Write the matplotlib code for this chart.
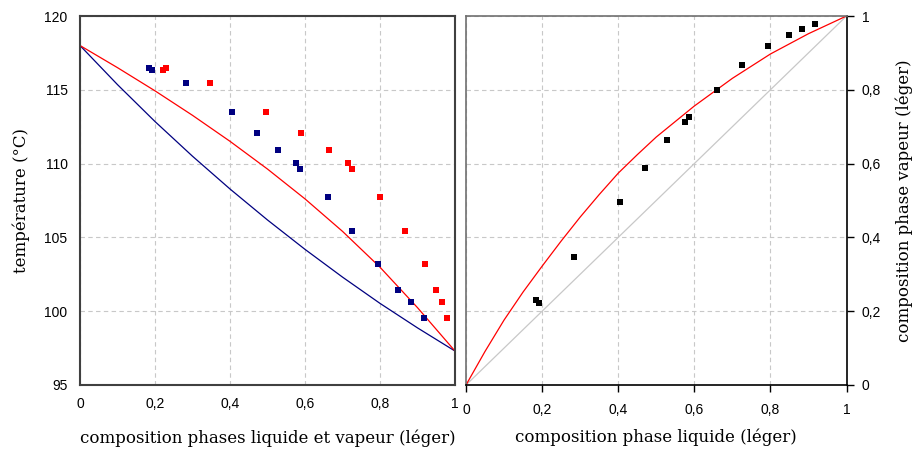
import numpy as np
import matplotlib
matplotlib.use('Agg')
import matplotlib.pyplot as plt

# mesures : composition liquide / vapeur (léger) et température
x_liq = [0.184, 0.192, 0.283, 0.405, 0.471, 0.529, 0.575, 0.586, 0.660, 0.726, 0.795, 0.848, 0.883, 0.916]
y_vap = [0.229, 0.221, 0.346, 0.497, 0.589, 0.664, 0.714, 0.725, 0.800, 0.866, 0.919, 0.948, 0.965, 0.979]
temp = [116.48, 116.36, 115.49, 113.48, 112.09, 110.92, 110.02, 109.61, 107.71, 105.41, 103.20, 101.43, 100.62, 99.54]

# courbes théoriques
comp = [0, 0.1, 0.2, 0.3, 0.4, 0.5, 0.6, 0.7, 0.8, 0.9, 1.0]
t_bulle = [118.0, 115.35, 112.85, 110.5, 108.28, 106.18, 104.19, 102.31, 100.53, 98.87, 97.3]
t_rosee = [118.0, 116.5, 114.93, 113.27, 111.51, 109.63, 107.61, 105.41, 102.98, 100.24, 97.3]

x_eq = [0, 0.05, 0.1, 0.15, 0.2, 0.25, 0.3, 0.35, 0.4, 0.45, 0.5, 0.6, 0.7, 0.8, 0.9, 1.0]
y_eq = [0, 0.091, 0.176, 0.252, 0.322, 0.39, 0.455, 0.516, 0.574, 0.624, 0.672, 0.756, 0.831, 0.897, 0.952, 1.0]

ticks_comp = [0, 0.2, 0.4, 0.6, 0.8, 1.0]
labels_comp = ['0', '0,2', '0,4', '0,6', '0,8', '1']
ticks_temp = [95, 100, 105, 110, 115, 120]

serif = ['DejaVu Serif']
sans = 'Liberation Sans'

fig = plt.figure(figsize=(9.13, 4.53), dpi=100)
ax1 = fig.add_axes([80/913, 68/453, 375/913, 369/453])
ax2 = fig.add_axes([466/913, 68/453, 380.5/913, 369/453])

grid_kw = dict(color='#c8c8c8', linestyle=(0, (4, 3)), linewidth=0.8)

# --- diagramme isobare
ax1.plot(comp, t_bulle, color='#000080', linewidth=0.9)
ax1.plot(comp, t_rosee, color='#ff0000', linewidth=0.9)
ax1.plot(x_liq, temp, 's', color='#000080', markersize=5, markeredgewidth=0)
ax1.plot(y_vap, temp, 's', color='#ff0000', markersize=5, markeredgewidth=0)
ax1.set_xlim(0, 1)
ax1.set_ylim(95, 120)
ax1.set_xticks(ticks_comp)
ax1.set_xticklabels(labels_comp)
ax1.set_yticks(ticks_temp)
ax1.grid(True, **grid_kw)
ax1.tick_params(length=0, pad=9, labelsize=10)
for lab in ax1.get_xticklabels() + ax1.get_yticklabels():
    lab.set_fontfamily(sans)
for s in ax1.spines.values():
    s.set_color('#404040')
    s.set_linewidth(1.5)
ax1.set_xlabel('composition phases liquide et vapeur (léger)', family=serif, fontsize=12, labelpad=13)
ax1.set_ylabel('température (°C)', family=serif, fontsize=12, labelpad=10)

# --- diagramme d'équilibre
ax2.plot([0, 1], [0, 1], color='#c8c8c8', linewidth=0.9)
ax2.plot(x_eq, y_eq, color='#ff0000', linewidth=0.9)
ax2.plot(x_liq, y_vap, 's', color='black', markersize=5, markeredgewidth=0)
ax2.set_xlim(0, 1)
ax2.set_ylim(0, 1)
ax2.set_xticks(ticks_comp)
ax2.set_xticklabels(labels_comp)
ax2.set_yticks(ticks_comp)
ax2.set_yticklabels(labels_comp)
ax2.yaxis.tick_right()
ax2.yaxis.set_label_position('right')
ax2.grid(True, **grid_kw)
ax2.tick_params(direction='out', length=5, width=1, pad=6, labelsize=10)
ax2.tick_params(axis='x', pad=8)
for lab in ax2.get_xticklabels() + ax2.get_yticklabels():
    lab.set_fontfamily(sans)
ax2.spines['top'].set_color('#707070')
ax2.spines['left'].set_color('#707070')
ax2.spines['right'].set_color('black')
ax2.spines['bottom'].set_color('black')
for s in ax2.spines.values():
    s.set_linewidth(1.2)
ax2.set_xlabel('composition phase liquide (léger)', family=serif, fontsize=12, labelpad=8)
ax2.set_ylabel('composition phase vapeur (léger)', family=serif, fontsize=12, labelpad=10)

fig.savefig('out.png', dpi=100, facecolor='white')
